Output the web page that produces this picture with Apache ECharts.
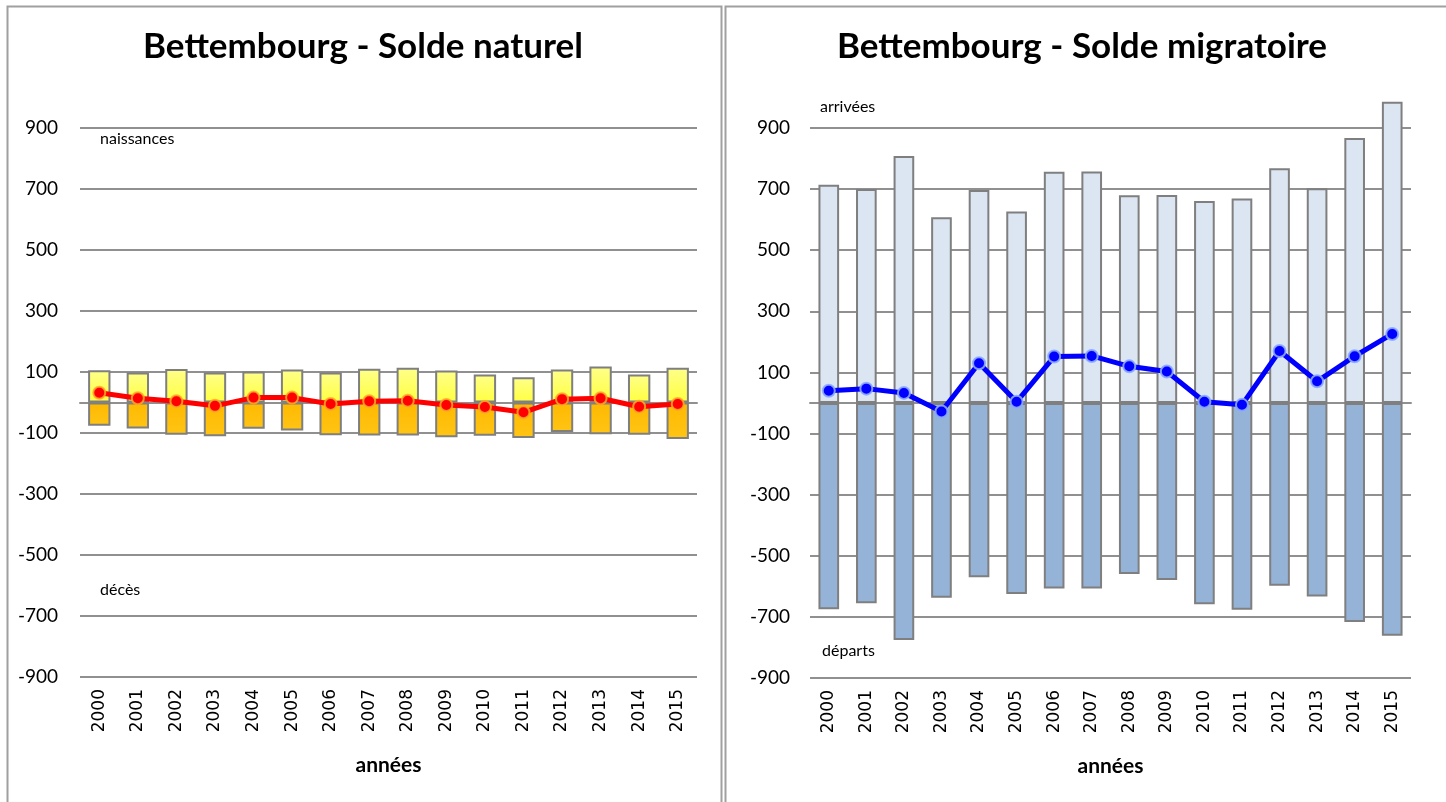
<!DOCTYPE html>
<html>
<head>
<meta charset="utf-8">
<script src="https://cdn.jsdelivr.net/npm/echarts@6.0.0/dist/echarts.min.js"></script>
<style>
html,body{margin:0;padding:0;background:#fff;}
#c{width:1446px;height:802px;}
</style>
</head>
<body>
<div id="c"></div>
<script>
const years = ['2000','2001','2002','2003','2004','2005','2006','2007','2008','2009','2010','2011','2012','2013','2014','2015'];
const naissances = [106, 98, 110, 98, 102, 108, 98, 111, 114, 105, 92, 83, 108, 118, 92, 114];
const deces = [-76, -85, -106, -111, -86, -92, -107, -108, -108, -114, -109, -116, -97, -104, -106, -120];
const soldeNaturel = [32, 14, 4, -11, 16, 16, -5, 4, 6, -8, -15, -32, 11, 14, -14, -5];
const arrivees = [714, 700, 808, 608, 697, 627, 757, 758, 680, 681, 661, 669, 768, 703, 867, 986];
const departs = [-675, -655, -776, -637, -570, -625, -607, -607, -560, -579, -659, -677, -598, -633, -717, -762];
const soldeMigratoire = [40, 47, 33, -28, 130, 4, 152, 154, 120, 103, 4, -6, 170, 71, 153, 226];
const yMin = -900, yMax = 900, yStep = 100;

const GRID_COL = '#909090';
const BAR_BORDER = '#7f7f7f';
const FONT = 'Lato';

function yAxisCfg(gridIndex, margin) {
  return {
    type: 'value', gridIndex: gridIndex, min: yMin, max: yMax, interval: yStep,
    axisLine: {show: false}, axisTick: {show: false},
    axisLabel: {
      color: '#000', fontFamily: FONT, fontSize: 19, margin: margin,
      formatter: v => (Math.abs(v) % 200 === 100) ? String(v) : ''
    },
    splitLine: {show: true, lineStyle: {color: [GRID_COL, 'rgba(0,0,0,0)'], width: 2}}
  };
}
function xAxisZero(gridIndex) {
  return {
    type: 'category', gridIndex: gridIndex, data: years, position: 'bottom',
    axisLine: {show: true, onZero: true, lineStyle: {color: GRID_COL, width: 2}},
    axisTick: {show: false}, axisLabel: {show: false}
  };
}
function xAxisLabels(gridIndex) {
  return {
    type: 'category', gridIndex: gridIndex, data: years, position: 'bottom',
    axisLine: {show: false, onZero: false}, axisTick: {show: false},
    axisLabel: {rotate: 90, color: '#000', fontFamily: 'DejaVu Sans', fontSize: 17, margin: 12},
    name: 'années', nameLocation: 'middle', nameGap: 78,
    nameTextStyle: {color: '#000', fontFamily: FONT, fontWeight: 'bold', fontSize: 21}
  };
}
function grad(c1, c2) {
  return new echarts.graphic.LinearGradient(0, 0, 0, 1, [{offset: 0, color: c1}, {offset: 1, color: c2}]);
}

const option = {
  backgroundColor: '#fff',
  animation: false,
  grid: [
    {left: 80, top: 128, width: 617, height: 549},
    {left: 810, top: 128, width: 601, height: 550}
  ],
  xAxis: [xAxisZero(0), xAxisLabels(0), xAxisZero(1), xAxisLabels(1)],
  yAxis: [yAxisCfg(0, 22), yAxisCfg(1, 20)],
  series: [
    {
      name: 'naissances', type: 'bar', xAxisIndex: 0, yAxisIndex: 0, data: naissances,
      barWidth: '58%', barGap: '-100%', clip: false,
      itemStyle: {color: grad('#ffff8a', '#ffff40'), borderColor: BAR_BORDER, borderWidth: 2}
    },
    {
      name: 'décès', type: 'bar', xAxisIndex: 0, yAxisIndex: 0, data: deces,
      barWidth: '58%', barGap: '-100%', clip: false,
      itemStyle: {color: grad('#ffb900', '#ffc414'), borderColor: BAR_BORDER, borderWidth: 2}
    },
    {
      name: 'solde naturel', type: 'line', xAxisIndex: 0, yAxisIndex: 0, data: soldeNaturel,
      symbol: 'circle', symbolSize: 12, z: 5,
      lineStyle: {color: '#ff0000', width: 5},
      itemStyle: {color: '#ff0000', borderColor: 'rgba(255,170,40,0.85)', borderWidth: 2}
    },
    {
      name: 'arrivées', type: 'bar', xAxisIndex: 2, yAxisIndex: 1, data: arrivees,
      barWidth: '55%', barGap: '-100%', clip: false,
      itemStyle: {color: '#dce6f2', borderColor: BAR_BORDER, borderWidth: 2}
    },
    {
      name: 'départs', type: 'bar', xAxisIndex: 2, yAxisIndex: 1, data: departs,
      barWidth: '55%', barGap: '-100%', clip: false,
      itemStyle: {color: '#95b3d7', borderColor: BAR_BORDER, borderWidth: 2}
    },
    {
      name: 'solde migratoire', type: 'line', xAxisIndex: 2, yAxisIndex: 1, data: soldeMigratoire,
      symbol: 'circle', symbolSize: 12, z: 5,
      lineStyle: {color: '#0000ff', width: 5},
      itemStyle: {color: '#0000ff', borderColor: 'rgba(140,170,255,0.9)', borderWidth: 2}
    }
  ],
  graphic: [
    {type: 'rect', left: 5, top: 4, shape: {width: 714, height: 820}, style: {fill: 'none', stroke: '#a0a0a0', lineWidth: 2}, z: -10},
    {type: 'rect', left: 723, top: 4, shape: {width: 740, height: 820}, style: {fill: 'none', stroke: '#a0a0a0', lineWidth: 2}, z: -10},
    {type: 'text', x: 363, y: 47, style: {text: 'Bettembourg - Solde naturel', fill: '#000', font: 'bold 35px Lato', textAlign: 'center', textVerticalAlign: 'middle'}},
    {type: 'text', x: 1082, y: 47, style: {text: 'Bettembourg - Solde migratoire', fill: '#000', font: 'bold 35px Lato', textAlign: 'center', textVerticalAlign: 'middle'}},
    {type: 'text', x: 100, y: 139, style: {text: 'naissances', fill: '#000', font: '16px Lato', textVerticalAlign: 'middle'}},
    {type: 'text', x: 100, y: 590, style: {text: 'décès', fill: '#000', font: '16px Lato', textVerticalAlign: 'middle'}},
    {type: 'text', x: 820, y: 107, style: {text: 'arrivées', fill: '#000', font: '16px Lato', textVerticalAlign: 'middle'}},
    {type: 'text', x: 822, y: 651, style: {text: 'départs', fill: '#000', font: '16px Lato', textVerticalAlign: 'middle'}}
  ]
};
const chart = echarts.init(document.getElementById('c'), null, {renderer: 'canvas'});
chart.setOption(option);
</script>
</body>
</html>
